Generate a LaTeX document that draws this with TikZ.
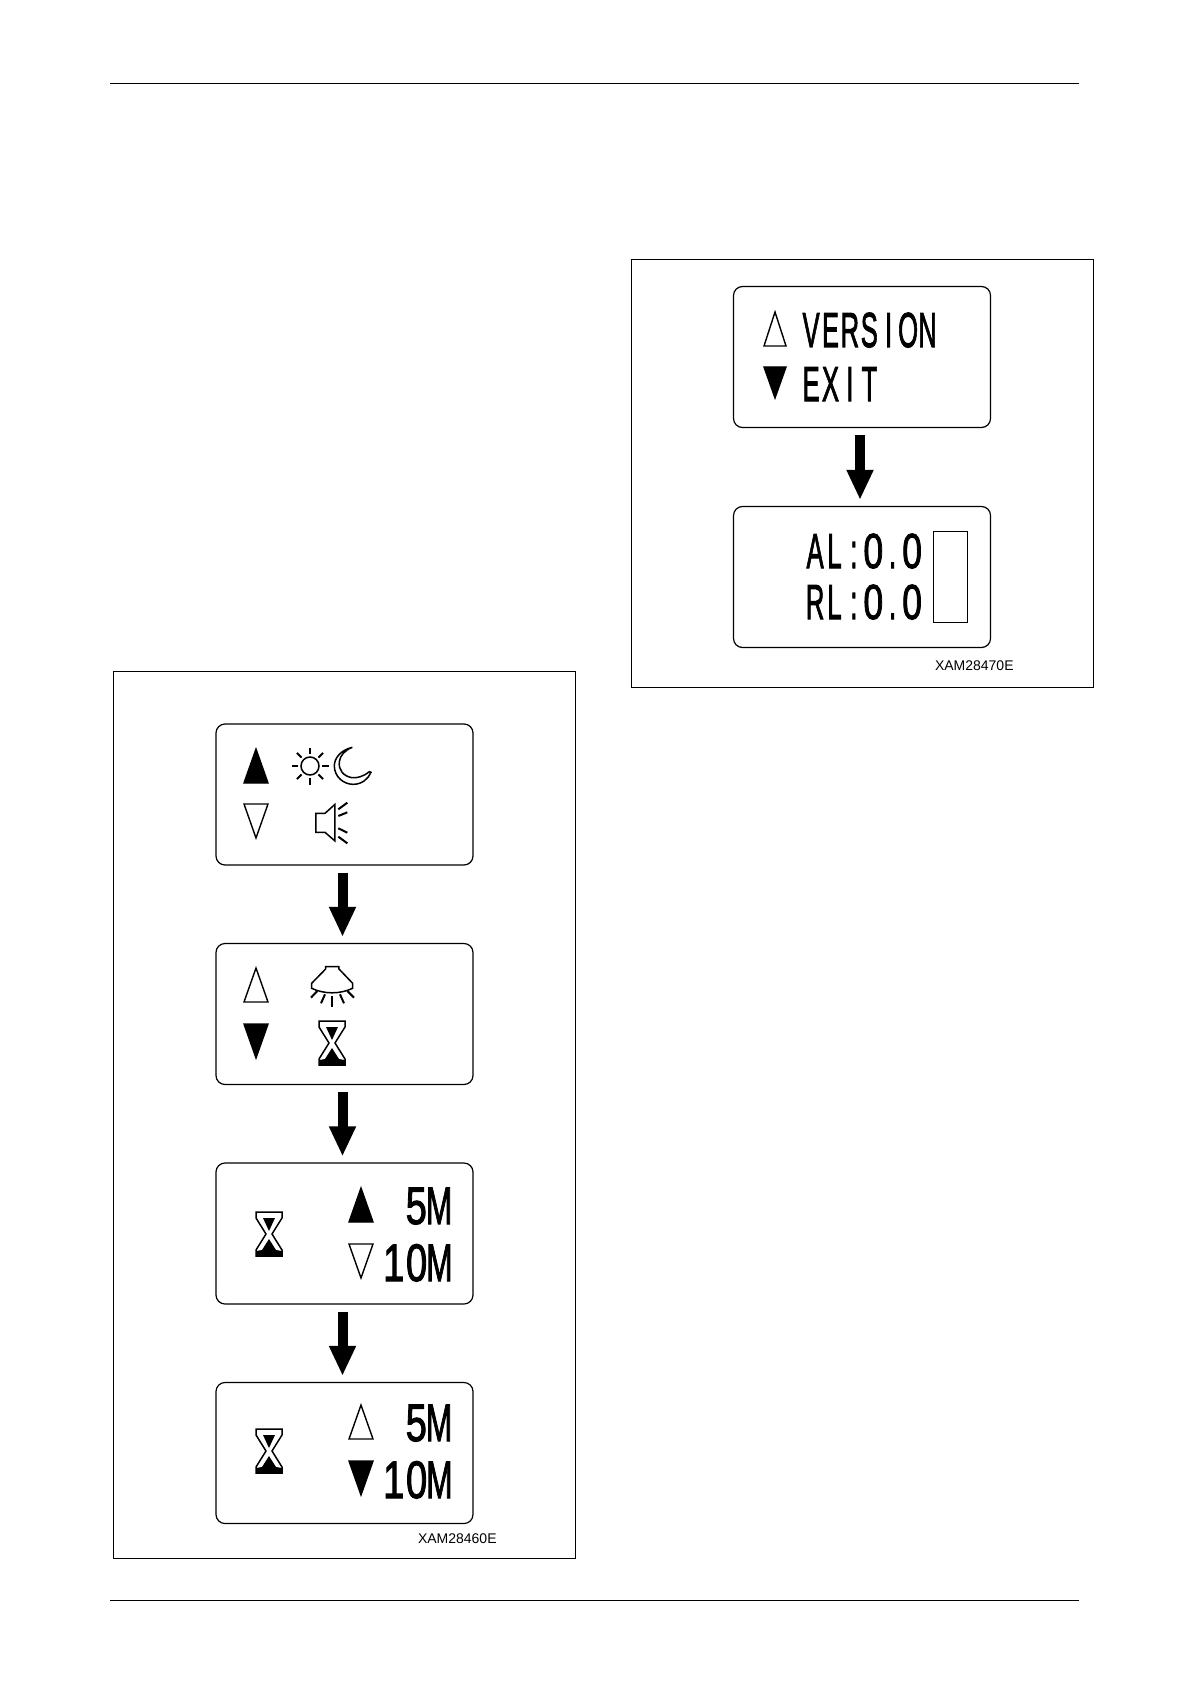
\documentclass[tikz,border=0pt]{standalone}
\usepackage{fontspec}
\usepackage{graphicx}
\setmainfont{Liberation Sans}
\newfontfamily\lcdfamily[FakeBold=2.2]{Liberation Sans}
\usetikzlibrary{arrows.meta}
% one cell of the display: letters are squeezed harder than digits
\newcommand{\lcdpitch}{9.7pt}
\newcommand{\lcdsize}{24.6}
\newcommand{\lc}[2][0.52]{\makebox[\lcdpitch][c]{\scalebox{#1}[1]{\fontsize{\lcdsize}{\lcdsize}\selectfont\lcdfamily #2}}}
\newcommand{\lcdlarge}{\renewcommand{\lcdpitch}{11.4pt}\renewcommand{\lcdsize}{26.4}}
\newcommand{\trihw}{12}
\newcommand{\trihh}{17}
\newcommand{\triup}[4][tri]{\draw[#1] (#2-\trihw,#3+\trihh) -- (#2+\trihw,#3+\trihh) -- (#2,#3-\trihh) -- cycle; \path (#2,#3) node[inner sep=0pt] (#4) {};}
\newcommand{\tridown}[4][tri]{\draw[#1] (#2-\trihw,#3-\trihh) -- (#2+\trihw,#3-\trihh) -- (#2,#3+\trihh) -- cycle; \path (#2,#3) node[inner sep=0pt] (#4) {};}
\newcommand{\hourglass}[2]{%
  \begin{scope}[shift={(#1,#2)}]
    \draw[icon,fill=white] (-13,-22) -- (13,-22) -- (13,-16) -- (3,0) -- (13,16) -- (13,22) -- (-13,22) -- (-13,16) -- (-3,0) -- (-13,-16) -- cycle;
    \fill (-6,-16) -- (6,-16) -- (0,-3) -- cycle;
    \fill (0,5) -- (7,16) -- (13,17) -- (13,22) -- (-13,22) -- (-13,17) -- (-7,16) -- cycle;
  \end{scope}}

\begin{document}
\begin{tikzpicture}[
    x=0.5pt,y=-0.5pt,
    >=Latex,
    rule/.style={line width=0.55pt},
    frame/.style={draw,line width=0.55pt},
    lcdbox/.style={draw,rounded corners=4.5pt,line width=0.6pt,minimum width=128.5pt,minimum height=70.5pt,inner sep=0pt},
    tri/.style={draw,line width=0.7pt,line join=miter},
    trifill/.style={tri,fill=black},
    icon/.style={draw,line width=0.75pt},
    ray/.style={line width=1pt},
    lcdtext/.style={anchor=base west,inner sep=0pt},
    partno/.style={anchor=base east,inner sep=0pt,font=\fontsize{7}{7}\selectfont},
    stepto/.style={-{Triangle[length=15pt,width=12.5pt]},line width=5pt,shorten <=3.5pt,shorten >=3pt}
  ]
  \useasboundingbox (0,0) rectangle (1191,1684);
  \fill[white] (0,0) rectangle (1191,1684);
  %% Page rules
  \draw[rule] (110,83.5) -- (1079,83.5);
  \draw[rule] (110,1600.5) -- (1079,1600.5);
  %% Frames
  \draw[frame] (113.5,671.5) rectangle (575.5,1558.5);
  \draw[frame] (631.5,259.5) rectangle (1093.5,687.5);
  %% Left column of screens
  \node[lcdbox] (light) at (344.5,794.5) {};
  \node[lcdbox] (lamp)  at (344.5,1014) {};
  \node[lcdbox] (timeA) at (344.5,1233.5) {};
  \node[lcdbox] (timeB) at (344.5,1453) {};
  \draw[stepto] ([xshift=-1pt]light.south) -- ([xshift=-1pt]lamp.north);
  \draw[stepto] ([xshift=-1pt]lamp.south) -- ([xshift=-1pt]timeA.north);
  \draw[stepto] ([xshift=-1pt]timeA.south) -- ([xshift=-1pt]timeB.north);
  %% Screen 1
  \triup[trifill]{256}{766}{lightup}
  \tridown{256}{821}{lightdown}
  \draw[icon] (310,766) circle (9);
  \foreach \a in {0,45,...,315}
    \draw[ray] (310,766) ++(\a:12) -- ++(\a:6.5);
  \begin{scope}[shift={(210,715)},scale=0.3333]
    \draw[icon] (427,97) .. controls (392,105) and (373,130) .. (373,152) .. controls (373,185) and (400,208) .. (430,208) .. controls (455,208) and (475,192) .. (483,172) -- (478,170) .. controls (460,185) and (440,190) .. (425,188) .. controls (400,183) and (385,165) .. (388,140) .. controls (390,122) and (405,105) .. (427,97) -- cycle;
    \draw[icon] (318,295) -- (345,295) -- (375,268) -- (375,378) -- (345,352) -- (318,352) -- cycle;
    \draw[ray] (385,283) -- (412,263);
    \draw[ray] (385,303) -- (412,292);
    \draw[ray] (385,340) -- (412,353);
    \draw[ray] (385,365) -- (412,385);
    %% Screen 2
    \draw[icon] (347,755) -- (387,755) -- (387,762) -- (428,805) -- (428,820) .. controls (390,838) and (343,838) .. (305,820) -- (305,805) -- (347,762) -- cycle;
    \draw[ray] (322,828) -- (303,848);
    \draw[ray] (345,838) -- (333,865);
    \draw[ray] (367,843) -- (367,875);
    \draw[ray] (390,838) -- (402,865);
    \draw[ray] (412,828) -- (432,848);
  \end{scope}
  \triup{256}{985}{lampup}
  \tridown[trifill]{256}{1041}{lampdown}
  \hourglass{332}{1043}
  %% Screen 3
  \hourglass{269}{1234}
  \triup[trifill]{361}{1205}{timeAup}
  \tridown{361}{1261}{timeAdown}
  \node[lcdtext] (fiveA) at (404.5,1224) {\lcdlarge\lc[0.72]{5}\lc[0.6]{M}};
  \node[lcdtext] (tenA) at (382,1281) {\lcdlarge\lc[0.72]{1}\lc[0.72]{0}\lc[0.6]{M}};
  %% Screen 4
  \hourglass{269}{1451}
  \triup{361}{1422}{timeBup}
  \tridown[trifill]{361}{1478}{timeBdown}
  \node[lcdtext] (fiveB) at (404.5,1441) {\lcdlarge\lc[0.72]{5}\lc[0.6]{M}};
  \node[lcdtext] (tenB) at (382,1498) {\lcdlarge\lc[0.72]{1}\lc[0.72]{0}\lc[0.6]{M}};
  \node[partno] (partL) at (497,1543) {XAM28460E};
  %% Right column of screens
  \node[lcdbox] (version) at (862,357) {};
  \node[lcdbox] (level)   at (862,577) {};
  \draw[stepto] ([xshift=-1pt]version.south) -- ([xshift=-1pt]level.north);
  \renewcommand{\trihw}{11}
  \triup{775}{329}{versionup}
  \renewcommand{\trihh}{15.5}
  \tridown[trifill]{775}{382.5}{versiondown}
  \node[lcdtext] (versiontxt) at (801,347) {\lc{V}\lc{E}\lc{R}\lc{S}\lc{I}\lc{O}\lc{N}};
  \node[lcdtext] (exittxt) at (801,401) {\lc{E}\lc{X}\lc{I}\lc{T}};
  \node[lcdtext] (altxt) at (805,568) {\lc{A}\lc{L}\lc{:}\lc[0.72]{0}\lc{.}\lc[0.72]{0}};
  \node[lcdtext] (rltxt) at (805,619) {\lc{R}\lc{L}\lc{:}\lc[0.72]{0}\lc{.}\lc[0.72]{0}};
  \node[draw,line width=0.45pt,minimum width=17pt,minimum height=45.5pt,inner sep=0pt] (bar) at (950,576.5) {};
  \node[partno] (partR) at (1014,670) {XAM28470E};
\end{tikzpicture}
\end{document}
